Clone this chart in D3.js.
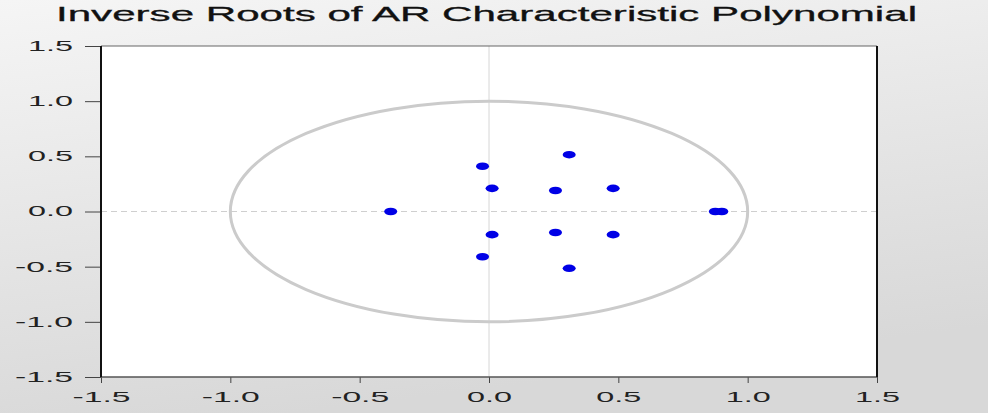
<!DOCTYPE html>
<html>
<head>
<meta charset="utf-8">
<script src="https://cdn.jsdelivr.net/npm/d3@7"></script>
<style>
  html, body { margin: 0; padding: 0; }
  body { width: 988px; height: 413px; overflow: hidden; }
  text { font-family: "Liberation Sans", Arial, sans-serif; }
</style>
</head>
<body>
<div id="chart"></div>
<script>
// inverse roots (real / imaginary parts)
const rootRe = [-0.38, -0.025, 0.012, 0.31, 0.257, 0.48, 0.012, 0.257, 0.48, -0.025, 0.31, 0.875, 0.9];
const rootIm = [0.0, 0.41, 0.21, 0.515, 0.19, 0.21, -0.21, -0.19, -0.21, -0.41, -0.515, 0.0, 0.0];
const xTicks = [-1.5, -1.0, -0.5, 0.0, 0.5, 1.0, 1.5];
const yTicks = [-1.5, -1.0, -0.5, 0.0, 0.5, 1.0, 1.5];
const title = "Inverse Roots of AR Characteristic Polynomial";

const W = 988, H = 413;
const margin = { top: 46, right: 111, bottom: 36, left: 101 };
const width = W - margin.left - margin.right,
    height = H - margin.top - margin.bottom;

const root = d3.select("#chart").append("svg")
    .attr("width", W)
    .attr("height", H);

// background gradient
const grad = root.append("defs").append("linearGradient")
    .attr("id", "bg")
    .attr("x1", 0).attr("y1", 0).attr("x2", 0.3).attr("y2", 1);
grad.append("stop").attr("offset", "0%").attr("stop-color", "#f5f5f5");
grad.append("stop").attr("offset", "100%").attr("stop-color", "#d8d8d8");
root.append("rect").attr("width", W).attr("height", H).attr("fill", "url(#bg)");

root.append("text")
    .attr("x", 56)
    .attr("y", 21)
    .attr("font-size", 21)
    .attr("fill", "#111")
    .attr("stroke", "#111")
    .attr("stroke-width", 0.3)
    .attr("textLength", 861)
    .attr("lengthAdjust", "spacingAndGlyphs")
    .text(title);

const svg = root.append("g")
    .attr("transform", `translate(${margin.left},${margin.top})`);

const x = d3.scaleLinear().domain([-1.5, 1.5]).range([0, width]);
const y = d3.scaleLinear().domain([-1.5, 1.5]).range([height, 0]);

svg.append("rect").attr("width", width).attr("height", height).attr("fill", "#fff");

// zero lines
svg.append("line")
    .attr("x1", 0).attr("x2", width)
    .attr("y1", y(0)).attr("y2", y(0))
    .attr("stroke", "#cfcfcf")
    .attr("stroke-dasharray", "6,4");
svg.append("line")
    .attr("x1", x(0)).attr("x2", x(0))
    .attr("y1", 0).attr("y2", height)
    .attr("stroke", "#d6d6d6");

// unit circle
svg.append("ellipse")
    .attr("cx", x(0)).attr("cy", y(0))
    .attr("rx", x(1) - x(0)).attr("ry", y(0) - y(1))
    .attr("fill", "none")
    .attr("stroke", "#cbcbcb")
    .attr("stroke-width", 3);

// roots
svg.append("g").selectAll("ellipse")
    .data(rootRe.map((d, i) => [d, rootIm[i]]))
    .enter().append("ellipse")
    .attr("cx", d => x(d[0]))
    .attr("cy", d => y(d[1]))
    .attr("rx", 6.5)
    .attr("ry", 3.8)
    .attr("fill", "#0000e6");

// axes
const fmt = d => d.toFixed(1);
const axisX = d3.axisBottom(x).tickValues(xTicks).tickFormat(fmt).tickSize(6).tickPadding(9);
const axisY = d3.axisLeft(y).tickValues(yTicks).tickFormat(fmt).tickSize(16).tickPadding(12);

const gx = svg.append("g").attr("transform", `translate(0,${height})`).call(axisX);
const gy = svg.append("g").call(axisY);

[gx, gy].forEach(g => {
    g.select(".domain").remove();
    g.selectAll(".tick line").attr("stroke", "#444");
    g.selectAll(".tick text")
        .attr("font-size", 14)
        .attr("fill", "#222")
        .attr("font-family", "'Liberation Sans', Arial, sans-serif")
        .attr("textLength", d => d < 0 ? 58 : 45)
        .attr("lengthAdjust", "spacingAndGlyphs");
});

// frame
svg.append("line").attr("x1", 0).attr("x2", width).attr("y1", 0).attr("y2", 0)
    .attr("stroke", "#666").attr("stroke-width", 1.2);
svg.append("line").attr("x1", 0).attr("x2", width).attr("y1", height).attr("y2", height)
    .attr("stroke", "#555").attr("stroke-width", 1.5);
svg.append("line").attr("x1", 0).attr("x2", 0).attr("y1", 0).attr("y2", height)
    .attr("stroke", "#111").attr("stroke-width", 2);
svg.append("line").attr("x1", width).attr("x2", width).attr("y1", 0).attr("y2", height)
    .attr("stroke", "#111").attr("stroke-width", 2);
</script>
</body>
</html>
